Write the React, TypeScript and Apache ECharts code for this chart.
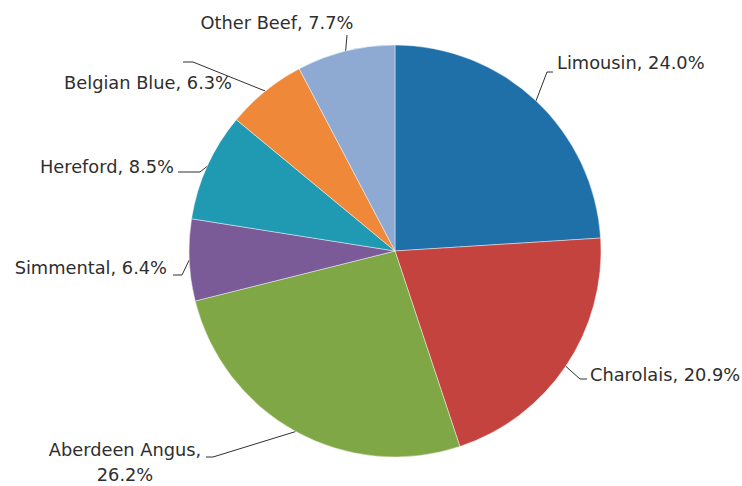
import React, { useEffect, useRef } from "react";
import * as echarts from "echarts";

const breeds = ["Limousin", "Charolais", "Aberdeen Angus", "Simmental", "Hereford", "Belgian Blue", "Other Beef"];
const shares = [24.0, 20.9, 26.2, 6.4, 8.5, 6.3, 7.7];
const colors = ["#1f6fa8", "#c4433e", "#7fa746", "#7b5a98", "#1f9ab2", "#f0883a", "#8eaad3"];

// label placement (layout only)
const labelPos = [
  { x: 557, y: 62, align: "left", bend: [547, 72], end: [553, 72] },
  { x: 590, y: 374, align: "left", bend: [580, 379], end: [587, 379] },
  { x: 125, y: 462, align: "center", bend: [213, 457], end: [206, 457] },
  { x: 167, y: 267, align: "right", bend: [182, 275], end: [173, 275] },
  { x: 174, y: 166, align: "right", bend: [200, 172], end: [178, 172] },
  { x: 232, y: 82, align: "right", bend: [193, 62], end: [183, 62] },
  { x: 277, y: 22, align: "center", bend: [347, 35], end: [347, 35] },
];

const CX = 395;
const CY = 251;
const R = 206;

export default function App() {
  const ref = useRef<HTMLDivElement>(null);
  useEffect(() => {
    if (!ref.current) return;
    const chart = echarts.init(ref.current, null, { renderer: "svg" });
    const total = shares.reduce((a, b) => a + b, 0);
    chart.setOption({
      animation: false,
      backgroundColor: "#ffffff",
      series: [
        {
          type: "pie",
          center: [CX, CY],
          radius: R,
          startAngle: 90,
          clockwise: true,
          avoidLabelOverlap: false,
          itemStyle: { borderColor: "rgba(255,255,255,0.55)", borderWidth: 0.8 },
          label: {
            show: true,
            position: "outside",
            color: "#2e2e2e",
            fontFamily: "DejaVu Sans",
            fontSize: 17.8,
            lineHeight: 25,
            formatter: (p: any) =>
              p.dataIndex === 2
                ? `${p.name},\n${p.value.toFixed(1)}%`
                : `${p.name}, ${p.value.toFixed(1)}%`,
          },
          labelLine: { show: true, smooth: false, lineStyle: { color: "#303030", width: 1 } },
          labelLayout: (params: any) => {
            const i = params.dataIndex;
            const lp = labelPos[i];
            let start = params.labelLinePoints && params.labelLinePoints[0];
            if (!start) {
              let cum = 0;
              for (let k = 0; k < i; k++) cum += shares[k];
              const a = ((cum + shares[i] / 2) / total) * Math.PI * 2;
              start = [CX + R * Math.sin(a), CY - R * Math.cos(a)];
            }
            return {
              x: lp.x,
              y: lp.y,
              align: lp.align,
              verticalAlign: "middle",
              labelLinePoints: [start, lp.bend, lp.end],
            };
          },
          data: breeds.map((b, i) => ({
            name: b,
            value: shares[i],
            itemStyle: { color: colors[i] },
            label: { align: labelPos[i].align },
          })),
        },
      ],
    });
    return () => chart.dispose();
  }, []);
  return (
    <div
      ref={ref}
      style={{ position: "fixed", left: 0, top: 0, width: 742, height: 486, background: "#fff" }}
    />
  );
}
